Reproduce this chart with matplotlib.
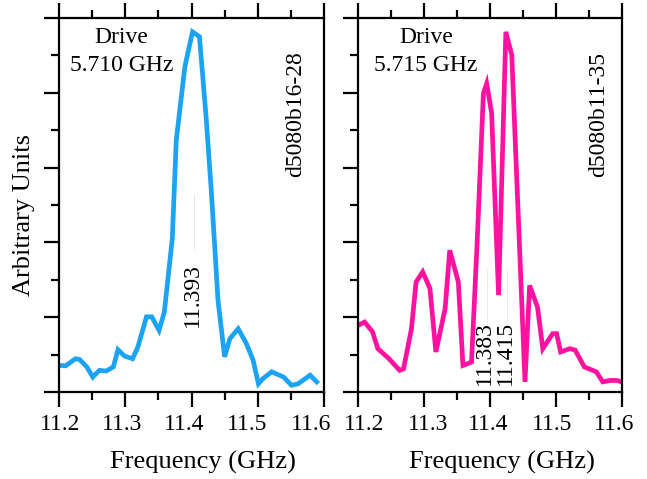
import numpy as np
import matplotlib
matplotlib.use("Agg")
import matplotlib.pyplot as plt
from matplotlib.ticker import MultipleLocator
from matplotlib.transforms import ScaledTranslation

# spectrum for the 5.710 GHz drive (d5080b16-28)
freq_a = [11.2025, 11.210, 11.225, 11.231, 11.242, 11.251, 11.261, 11.271, 11.282,
          11.289, 11.299, 11.311, 11.319, 11.332, 11.340, 11.351, 11.359, 11.371,
          11.377, 11.390, 11.4015, 11.412, 11.422, 11.430, 11.440, 11.450, 11.458,
          11.4705, 11.483, 11.493, 11.501, 11.508, 11.521, 11.539, 11.551, 11.561,
          11.579, 11.589]
amp_a = [0.71, 0.70, 0.89, 0.87, 0.67, 0.40, 0.58, 0.56, 0.67,
         1.13, 0.96, 0.89, 1.20, 2.01, 2.01, 1.65, 2.14, 4.10,
         6.73, 8.70, 9.63, 9.50, 7.36, 5.35, 2.45, 0.94, 1.43,
         1.69, 1.29, 0.85, 0.22, 0.36, 0.54, 0.40, 0.18, 0.22,
         0.45, 0.27]

# spectrum for the 5.715 GHz drive (d5080b11-35)
freq_b = [11.200, 11.210, 11.222, 11.230, 11.247, 11.263, 11.269, 11.281, 11.288,
          11.298, 11.309, 11.318, 11.332, 11.339, 11.352, 11.359, 11.372, 11.380,
          11.390, 11.395, 11.4025, 11.413, 11.424, 11.433, 11.453, 11.460, 11.472,
          11.480, 11.495, 11.501, 11.507, 11.521, 11.529, 11.543, 11.561, 11.571,
          11.582, 11.592, 11.600]
amp_b = [1.78, 1.87, 1.61, 1.16, 0.89, 0.58, 0.62, 1.69, 2.94,
         3.21, 2.77, 1.07, 2.23, 3.79, 2.94, 0.71, 0.80, 3.79,
         7.98, 8.25, 7.45, 2.59, 9.63, 9.01, 0.27, 2.85, 2.27,
         1.16, 1.56, 1.56, 1.07, 1.16, 1.12, 0.67, 0.54, 0.27,
         0.31, 0.31, 0.27]

xticks = [11.2, 11.3, 11.4, 11.5, 11.6]
xtick_labels = ["11.2", "11.3", "11.4", "11.5", "11.6"]
drives = ["Drive\n5.710 GHz", "Drive\n5.715 GHz"]
runs = ["d5080b16-28", "d5080b11-35"]
peaks_a = ["11.393"]
peaks_b = ["11.383", "11.415"]
# where the peak labels sit on the frequency axis
peak_pos_a = [11.4015]
peak_pos_b = [11.392, 11.423]

plt.rcParams["font.family"] = ["Liberation Serif", "DejaVu Serif"]

fig = plt.figure(figsize=(6.47, 4.79), dpi=100)
ax1 = fig.add_axes([59 / 647, 87 / 479, 265 / 647, 374 / 479])
ax2 = fig.add_axes([358 / 647, 87 / 479, 264 / 647, 374 / 479])

# small horizontal nudges (pixels) of the tick labels, as in the original
nudge_a = [1, -3, -7, -11, -13]
nudge_b = [6, 4, -2, -4, -8]

panels = [
    (ax1, freq_a, amp_a, "#1CA3F4", drives[0], runs[0], 0.236, 0.894, nudge_a, 0.542),
    (ax2, freq_b, amp_b, "#FF12A0", drives[1], runs[1], 0.258, 0.91, nudge_b, 0.547),
]

for ax, f, a, col, drv, run, xd, xr, nudge, xl in panels:
    ax.plot(f, a, color=col, lw=3.4, solid_joinstyle="miter")
    ax.set_xlim(11.2, 11.6)
    ax.set_ylim(0, 10)
    ax.set_xticks(xticks)
    ax.set_xticklabels(xtick_labels)
    ax.xaxis.set_minor_locator(MultipleLocator(0.05))
    ax.yaxis.set_major_locator(MultipleLocator(2))
    ax.yaxis.set_minor_locator(MultipleLocator(1))
    ax.tick_params(which="both", direction="out", width=1.6, top=True,
                   right=False, labelleft=False, labelsize=17, pad=5)
    ax.tick_params(which="major", length=11)
    ax.tick_params(which="minor", length=6)
    for s in ax.spines.values():
        s.set_linewidth(1.6)
    for lab, dx in zip(ax.get_xticklabels(), nudge):
        lab.set_transform(lab.get_transform() +
                          ScaledTranslation(dx / 100, 0, fig.dpi_scale_trans))
    ax.set_xlabel("Frequency (GHz)", fontsize=19, va="top")
    ax.xaxis.set_label_coords(xl, -0.157)
    ax.text(xd, 0.975, drv, transform=ax.transAxes, ha="center", va="top",
            fontsize=17, linespacing=1.4)
    ax.text(xr, 0.91, run, transform=ax.transAxes, ha="center", va="top",
            rotation=90, fontsize=17)

ax1.set_ylabel("Arbitrary Units", fontsize=19)
ax1.yaxis.set_label_coords(-0.092, 0.473)

ax1.text(peak_pos_a[0], 1.75, peaks_a[0], rotation=90, ha="center",
         va="bottom", fontsize=17)
ax1.plot([peak_pos_a[0] + 0.002] * 2, [3.8, 5.3], color="#e6e6e6", lw=0.6)

for p, lab in zip(peak_pos_b, peaks_b):
    ax2.text(p, 0.2, lab, rotation=90, ha="center", va="bottom", fontsize=17)
    ax2.plot([p + 0.003] * 2, [1.85, 3.3], color="#e6e6e6", lw=0.6)

fig.savefig("out.png", dpi=100)
